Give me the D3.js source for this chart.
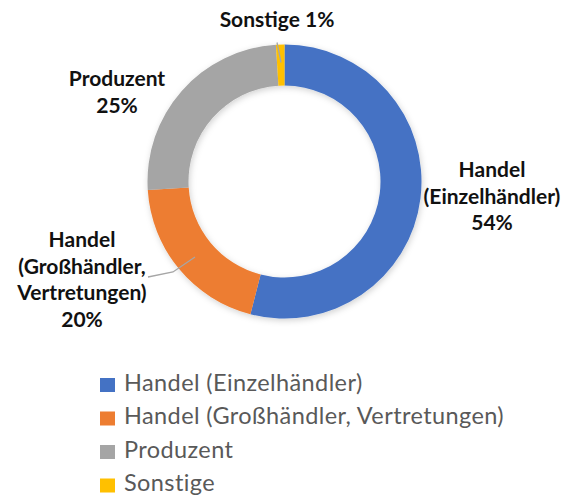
<!DOCTYPE html>
<html>
<head>
<meta charset="utf-8">
<script src="https://cdn.jsdelivr.net/npm/d3@7"></script>
<style>
  body { margin: 0; background: #fff; }
  svg { display: block; font-family: Lato, "Liberation Sans", sans-serif; }
</style>
</head>
<body>
<main></main>
<script>
//Datos del gráfico
const categorias = ["Handel (Einzelhändler)", "Handel (Großhändler, Vertretungen)", "Produzent", "Sonstige"];
const valores = [54, 20, 25, 1];
const nombresEtiqueta = [["Handel", "(Einzelhändler)"], ["Handel", "(Großhändler,", "Vertretungen)"], ["Produzent"], ["Sonstige"]];
const colores = ["#4472C4", "#ED7D31", "#A5A5A5", "#FFC000"];

const w = 563;
const h = 495;

var svg = d3.select('main')
    .append('svg')
    .attr('width', w)
    .attr('height', h);

//Sombra suave del anillo
const defs = svg.append('defs');
defs.append('filter')
    .attr('id', 'sombra')
    .attr('x', '-20%').attr('y', '-20%').attr('width', '140%').attr('height', '140%')
    .append('feDropShadow')
    .attr('dx', 1).attr('dy', 2)
    .attr('stdDeviation', 3)
    .attr('flood-color', '#000')
    .attr('flood-opacity', 0.18);

const cx = 284.5, cy = 181.5;

const pie = d3.pie().sort(null).value(d => d);
const arco = d3.arc().innerRadius(96).outerRadius(137);

const g = svg.append('g')
    .attr('transform', `translate(${cx},${cy})`);

g.append('g')
    .attr('filter', 'url(#sombra)')
    .selectAll('path')
    .data(pie(valores))
    .enter()
    .append('path')
    .attr('d', arco)
    .attr('fill', (d, i) => colores[i]);

//Líneas guía
const linea = d3.line();
const guias = [
    [[-7.5, -139], [-3.5, -119]],
    [[-136.5, 95.5], [-111.5, 90.5], [-89.5, 75.5]]
];
g.selectAll('.guia')
    .data(guias)
    .enter()
    .append('path')
    .attr('class', 'guia')
    .attr('d', linea)
    .attr('fill', 'none')
    .attr('stroke', '#A6A6A6')
    .attr('stroke-width', 1.3);

//Etiquetas
const posEtiqueta = [
    { x: 492, y: 177, inline: false },
    { x: 82, y: 247, inline: false },
    { x: 117, y: 86, inline: false },
    { x: 277, y: 27, inline: true }
];
const lh = 26.5;

valores.forEach((v, i) => {
    const p = posEtiqueta[i];
    let lineas = nombresEtiqueta[i].slice();
    if (p.inline) {
        lineas[lineas.length - 1] += ' ' + v + '%';
    } else {
        lineas.push(v + '%');
    }
    const t = svg.append('text')
        .attr('x', p.x)
        .attr('y', p.y)
        .attr('text-anchor', 'middle')
        .attr('font-weight', 'bold')
        .attr('font-size', 21)
        .attr('fill', '#111');
    lineas.forEach((l, j) => {
        t.append('tspan')
            .attr('x', p.x)
            .attr('y', p.y + j * lh)
            .text(l);
    });
});

//Leyenda
const leyenda = svg.append('g')
    .attr('transform', 'translate(100,378)');

const fila = leyenda.selectAll('g')
    .data(categorias)
    .enter()
    .append('g')
    .attr('transform', (d, i) => `translate(0,${i * 33.5})`);

fila.append('rect')
    .attr('width', 15)
    .attr('height', 14)
    .attr('fill', (d, i) => colores[i]);

fila.append('text')
    .attr('x', 24)
    .attr('y', 12.5)
    .attr('font-size', 23.5)
    .attr('letter-spacing', 0.4)
    .attr('fill', '#595959')
    .text(d => d);
</script>
</body>
</html>
